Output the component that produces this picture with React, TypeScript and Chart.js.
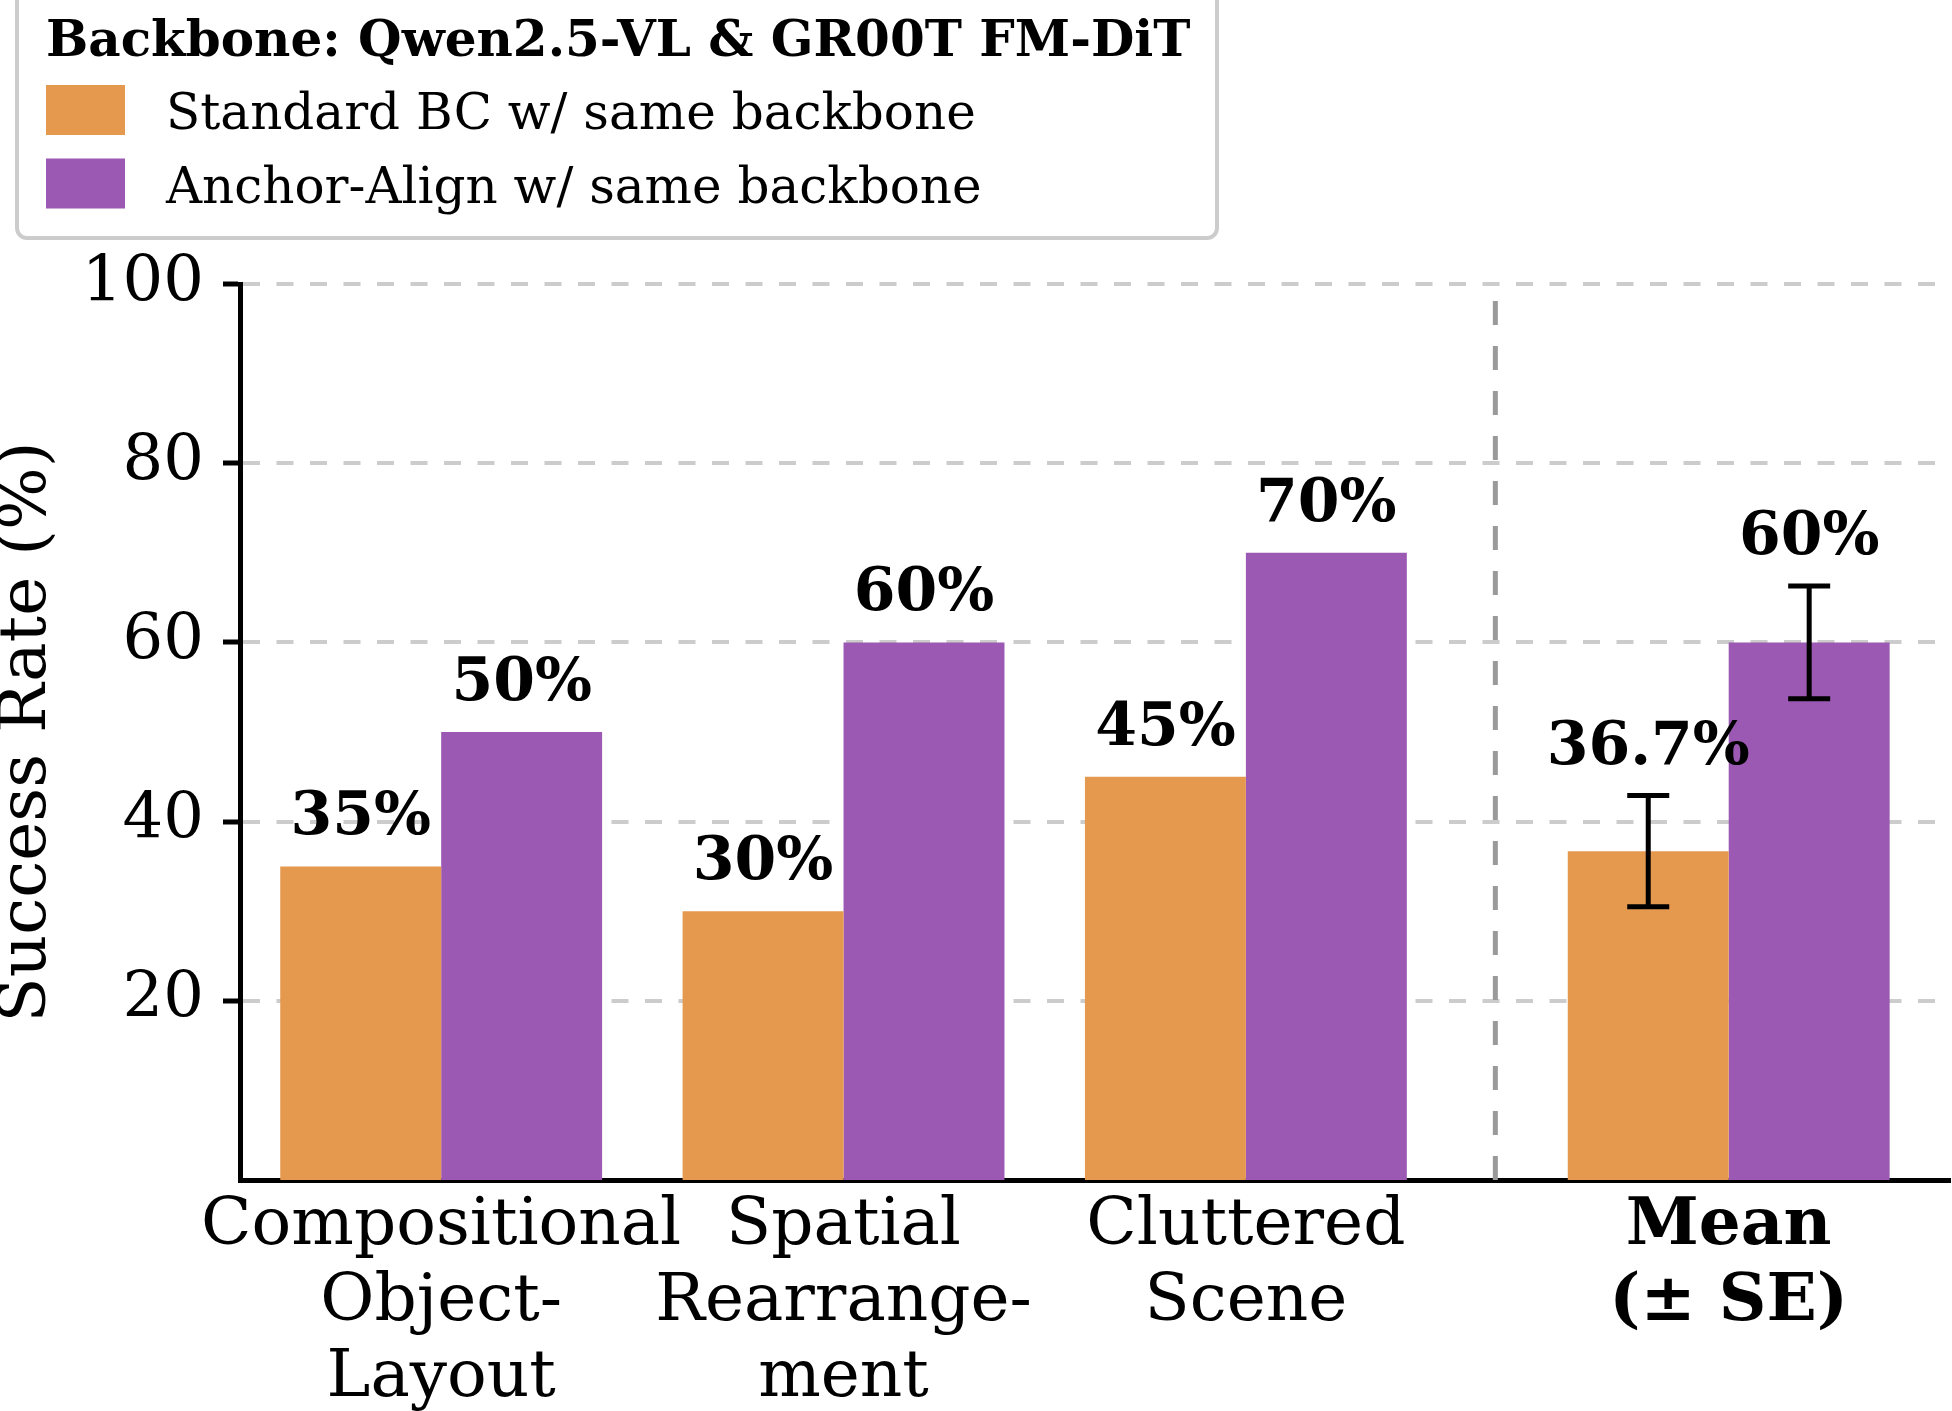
import { useEffect, useRef } from "react";
import { Chart, registerables } from "chart.js";

Chart.register(...registerables);

// ---- data ----
const categories: string[][] = [
  ["Compositional", "Object-", "Layout"],
  ["Spatial", "Rearrange-", "ment"],
  ["Cluttered", "Scene"],
  ["Mean", "(± SE)"],
];
const categoryPositions = [0, 1, 2, 3.2];
const meanIndex = 3;
const separatorAt = 2.62;

const seriesLabels = ["Standard BC w/ same backbone", "Anchor-Align w/ same backbone"];
const standardBC = [35, 30, 45, 36.7];
const anchorAlign = [50, 60, 70, 60];
const standardSE: (number | null)[] = [null, null, null, 6.2];
const anchorSE: (number | null)[] = [null, null, null, 6.3];

const yTicks = [20, 40, 60, 80, 100];
const legendTitle = "Backbone: Qwen2.5-VL & GR00T FM-DiT";
const yTitle = "Success Rate (%)";

// ---- styling ----
const FONT = "'DejaVu Serif', serif";
const ORANGE = "#E5994F";
const PURPLE = "#9B59B4";
const seriesColors = [ORANGE, PURPLE];
const seriesValues = [standardBC, anchorAlign];
const seriesErrors = [standardSE, anchorSE];

const overlayPlugin = {
  id: "overlay",
  beforeDatasetsDraw(chart: any) {
    const { ctx, chartArea, scales } = chart;
    const px = scales.x.getPixelForValue(separatorAt);
    ctx.save();
    ctx.strokeStyle = "#9a9a9a";
    ctx.lineWidth = 5;
    ctx.setLineDash([24, 21]);
    ctx.beginPath();
    ctx.moveTo(px, chartArea.bottom);
    ctx.lineTo(px, chartArea.top);
    ctx.stroke();
    ctx.restore();
  },
  afterDatasetsDraw(chart: any) {
    const { ctx, scales } = chart;
    const y = scales.y;
    ctx.save();
    chart.data.datasets.forEach((_: any, di: number) => {
      const meta = chart.getDatasetMeta(di);
      meta.data.forEach((bar: any, i: number) => {
        const v = seriesValues[di][i];
        const se = seriesErrors[di][i];
        let top = v;
        if (se != null) {
          const yHi = y.getPixelForValue(v + se);
          const yLo = y.getPixelForValue(v - se);
          const cap = 21;
          ctx.strokeStyle = "#000";
          ctx.lineWidth = 5;
          ctx.setLineDash([]);
          ctx.beginPath();
          ctx.moveTo(bar.x, yLo);
          ctx.lineTo(bar.x, yHi);
          ctx.moveTo(bar.x - cap, yHi);
          ctx.lineTo(bar.x + cap, yHi);
          ctx.moveTo(bar.x - cap, yLo);
          ctx.lineTo(bar.x + cap, yLo);
          ctx.stroke();
          top = v + se;
        }
        ctx.fillStyle = "#000";
        ctx.font = `bold 60px ${FONT}`;
        ctx.textAlign = "center";
        ctx.textBaseline = "alphabetic";
        ctx.fillText(`${v}%`, bar.x, y.getPixelForValue(top) - 32);
      });
    });
    ctx.restore();
  },
  afterDraw(chart: any) {
    const { ctx } = chart;
    ctx.save();
    // legend frame
    ctx.beginPath();
    ctx.roundRect(17, -20, 1200, 258, 10);
    ctx.fillStyle = "rgba(255,255,255,0.9)";
    ctx.fill();
    ctx.strokeStyle = "#cccccc";
    ctx.lineWidth = 4;
    ctx.stroke();
    // legend title
    ctx.fillStyle = "#000";
    ctx.textAlign = "left";
    ctx.textBaseline = "alphabetic";
    ctx.font = `bold 50px ${FONT}`;
    ctx.fillText(legendTitle, 46, 56);
    // legend entries
    ctx.font = `50px ${FONT}`;
    seriesLabels.forEach((label, i) => {
      const rowTop = 85 + i * 73.5;
      ctx.fillStyle = seriesColors[i];
      ctx.fillRect(46, rowTop, 79, 50);
      ctx.fillStyle = "#000";
      ctx.fillText(label, 166, rowTop + 44);
    });
    ctx.restore();
  },
};

export default function App() {
  const canvasRef = useRef<HTMLCanvasElement | null>(null);

  useEffect(() => {
    const canvas = canvasRef.current;
    if (!canvas) return;
    const chart = new Chart(canvas, {
      type: "bar",
      data: {
        datasets: seriesLabels.map((label, di) => ({
          label,
          data: categoryPositions.map((x, i) => ({ x, y: seriesValues[di][i] })),
          backgroundColor: seriesColors[di],
          borderWidth: 0,
          categoryPercentage: 0.8,
          barPercentage: 1,
        })),
      },
      options: {
        responsive: false,
        animation: false,
        devicePixelRatio: 1,
        layout: { padding: { top: 284, left: 0, right: 2, bottom: 0 } },
        plugins: {
          legend: { display: false },
          tooltip: { enabled: false },
        },
        scales: {
          x: {
            type: "linear",
            min: -0.5,
            max: 3.75,
            offset: false,
            afterBuildTicks: (scale: any) => {
              scale.ticks = categoryPositions.map((value) => ({ value }));
            },
            afterFit: (scale: any) => {
              scale.height = 231;
            },
            grid: { display: false, drawTicks: false },
            border: { display: true, color: "#000", width: 5 },
            ticks: {
              padding: 9,
              color: "#000",
              autoSkip: false,
              maxRotation: 0,
              minRotation: 0,
              font: (ctx: any) => ({
                family: FONT,
                size: 66,
                lineHeight: 76 / 66,
                weight: ctx.index === meanIndex ? "bold" : "normal",
              }),
              callback: (_value: any, index: number) => categories[index],
            },
          },
          y: {
            min: 0,
            max: 100,
            afterBuildTicks: (scale: any) => {
              scale.ticks = yTicks.map((value) => ({ value }));
            },
            afterFit: (scale: any) => {
              scale.width = 240;
            },
            grid: {
              color: "#cccccc",
              lineWidth: 4,
              drawTicks: true,
              tickLength: 17,
              tickColor: "#000",
              tickWidth: 5,
              tickBorderDash: [],
            },
            border: { display: true, color: "#000", width: 5, dash: [17, 16.5] },
            ticks: {
              padding: 19,
              color: "#000",
              font: { family: FONT, size: 64 },
            },
            title: {
              display: true,
              text: yTitle,
              color: "#000",
              padding: 0,
              font: { family: FONT, size: 66, lineHeight: 0.85 },
            },
          },
        },
      },
      plugins: [overlayPlugin],
    } as any);
    return () => chart.destroy();
  }, []);

  return (
    <div style={{ position: "absolute", left: 0, top: 0, width: 1952, height: 1411, background: "#fff" }}>
      <canvas ref={canvasRef} width={1952} height={1411} style={{ display: "block" }} />
    </div>
  );
}
